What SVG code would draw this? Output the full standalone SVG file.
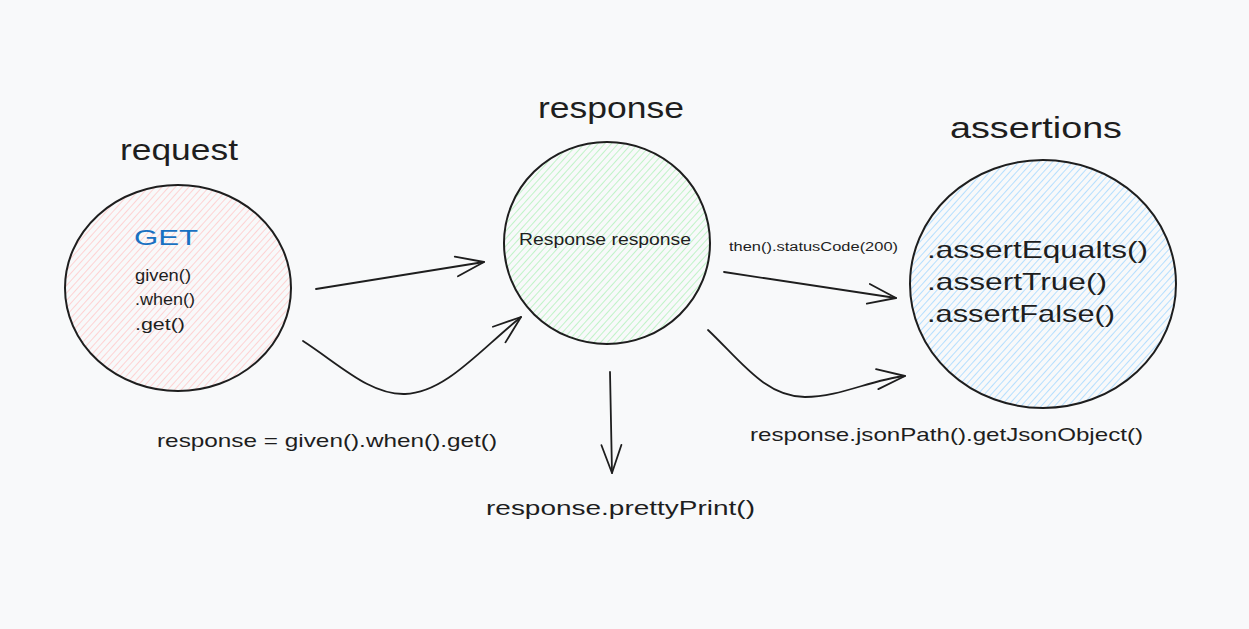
<svg xmlns="http://www.w3.org/2000/svg" width="1249" height="629" viewBox="0 0 1249 629">
<defs>
<style>
.bg{fill:#f8f9fa}
.outline{fill:none;stroke:#1e1e1e;stroke-width:2}
.t{font-family:"Liberation Sans","DejaVu Sans",sans-serif;fill:#1e1e1e}
.title{font-size:30px}
.conn{fill:none;stroke:#1e1e1e;stroke-width:1.8;stroke-linecap:round}
</style>
<pattern id="hPink" width="5" height="5" patternUnits="userSpaceOnUse" patternTransform="rotate(42)">
<line x1="0" y1="0" x2="0" y2="5" stroke="#ffc9c9" stroke-width="1.6"/>
</pattern>
<pattern id="hGreen" width="5" height="5" patternUnits="userSpaceOnUse" patternTransform="rotate(42)">
<line x1="0" y1="0" x2="0" y2="5" stroke="#b2f2bb" stroke-width="1.6"/>
</pattern>
<pattern id="hBlue" width="5" height="5" patternUnits="userSpaceOnUse" patternTransform="rotate(42)">
<line x1="0" y1="0" x2="0" y2="5" stroke="#a5d8ff" stroke-width="1.6"/>
</pattern>
<marker id="arr" viewBox="-30 -12 34 24" markerWidth="34" markerHeight="24" refX="0" refY="0" orient="auto" markerUnits="userSpaceOnUse">
<path d="M-28,-10 L0,0 L-28,10" fill="none" stroke="#1e1e1e" stroke-width="1.8" stroke-linecap="round" stroke-linejoin="round"/>
</marker>
</defs>
<rect class="bg" x="0" y="0" width="1249" height="629"/>

<g id="request">
<ellipse cx="178" cy="288" rx="113" ry="103" fill="url(#hPink)"/>
<ellipse class="outline" cx="178" cy="288" rx="113" ry="103"/>
<text class="t title" x="120" y="160" textLength="118" lengthAdjust="spacingAndGlyphs">request</text>
<text class="t" x="134" y="245" font-size="22" style="fill:#1971c2" textLength="64" lengthAdjust="spacingAndGlyphs">GET</text>
<text class="t" x="135" y="281" font-size="17" textLength="56" lengthAdjust="spacingAndGlyphs">given()</text>
<text class="t" x="135" y="305" font-size="17" textLength="60" lengthAdjust="spacingAndGlyphs">.when()</text>
<text class="t" x="135" y="330" font-size="17" textLength="50" lengthAdjust="spacingAndGlyphs">.get()</text>
</g>

<g id="response">
<ellipse cx="607" cy="243" rx="103" ry="101" fill="url(#hGreen)"/>
<ellipse class="outline" cx="607" cy="243" rx="103" ry="101"/>
<text class="t title" x="538" y="118" textLength="146" lengthAdjust="spacingAndGlyphs">response</text>
<text class="t" x="519" y="245" font-size="16" textLength="172" lengthAdjust="spacingAndGlyphs">Response response</text>
</g>

<g id="assertions">
<ellipse cx="1043" cy="284" rx="133" ry="124" fill="url(#hBlue)"/>
<ellipse class="outline" cx="1043" cy="284" rx="133" ry="124"/>
<text class="t title" x="950" y="138" textLength="172" lengthAdjust="spacingAndGlyphs">assertions</text>
<text class="t" x="927" y="258" font-size="24" textLength="221" lengthAdjust="spacingAndGlyphs">.assertEqualts()</text>
<text class="t" x="927" y="290" font-size="24" textLength="180" lengthAdjust="spacingAndGlyphs">.assertTrue()</text>
<text class="t" x="927" y="322" font-size="24" textLength="188" lengthAdjust="spacingAndGlyphs">.assertFalse()</text>
</g>

<g id="connectors">
<path class="conn" d="M316,289 L484,262" marker-end="url(#arr)"/>
<path class="conn" d="M303,341 C340,365 370,395 405,394 C445,393 480,350 521,317" marker-end="url(#arr)"/>
<path class="conn" d="M610,372 L612,473" marker-end="url(#arr)"/>
<path class="conn" d="M724,272 L896,298" marker-end="url(#arr)"/>
<path class="conn" d="M708,330 C740,360 765,397 805,397 C840,397 870,380 905,376" marker-end="url(#arr)"/>
<text class="t" x="729" y="251" font-size="12" textLength="169" lengthAdjust="spacingAndGlyphs">then().statusCode(200)</text>
<text class="t" x="157" y="447" font-size="19" textLength="340" lengthAdjust="spacingAndGlyphs">response = given().when().get()</text>
<text class="t" x="486" y="515" font-size="20" textLength="269" lengthAdjust="spacingAndGlyphs">response.prettyPrint()</text>
<text class="t" x="750" y="441" font-size="19" textLength="393" lengthAdjust="spacingAndGlyphs">response.jsonPath().getJsonObject()</text>
</g>
</svg>
